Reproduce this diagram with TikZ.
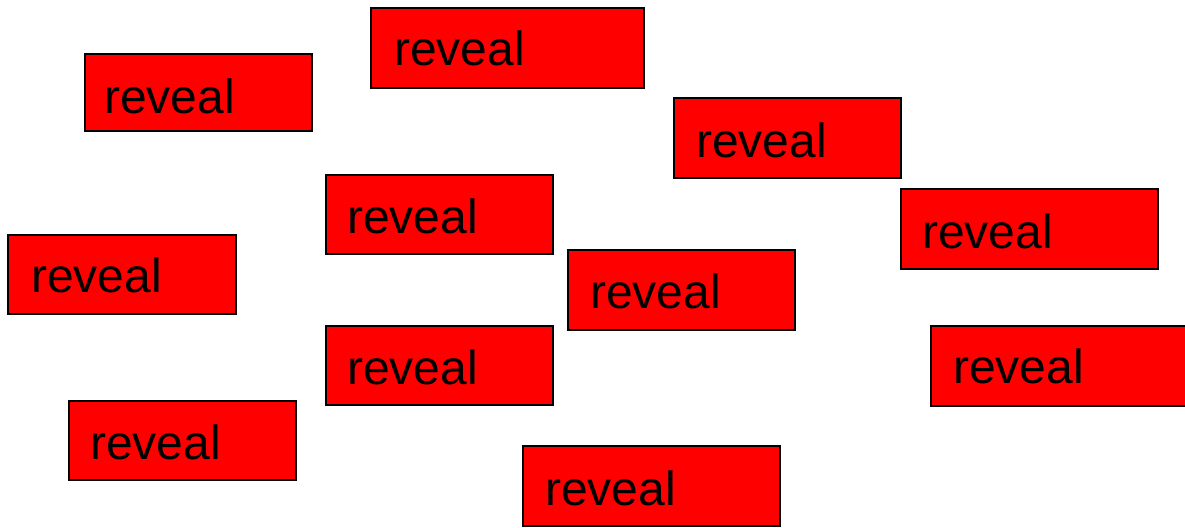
\documentclass[tikz,border=0pt]{standalone}
\usepackage{fontspec}
\setmainfont{Liberation Sans}
\begin{document}
\begin{tikzpicture}[x=1pt,y=-1pt,
  boxshape/.style={draw=black,fill=red,line width=2pt},
  thinbox/.style={draw=black,fill=red,line width=1.2pt},
  lbl/.style={anchor=base west,inner sep=0pt,font=\fontsize{48}{50}\selectfont,text=black}]
\useasboundingbox (0,0) rectangle (1185,527);
\draw[thinbox] (85,54) rectangle (312,131);
\node[lbl] (r1) at (104,113) {reveal};
\draw[boxshape] (371,8) rectangle (644,88);
\node[lbl] (r2) at (394,66) {reveal};
\draw[boxshape] (674,98) rectangle (901,178);
\node[lbl] (r3) at (696,157) {reveal};
\draw[boxshape] (326,175) rectangle (553,254);
\node[lbl] (r4) at (347,233) {reveal};
\draw[boxshape] (901,189) rectangle (1158,269);
\node[lbl] (r5) at (922,248) {reveal};
\draw[boxshape] (8,235) rectangle (236,314);
\node[lbl] (r6) at (31,292.5) {reveal};
\draw[boxshape] (568,250) rectangle (795,330);
\node[lbl] (r7) at (590,308) {reveal};
\draw[boxshape] (326,326) rectangle (553,405);
\node[lbl] (r8) at (347,384) {reveal};
\draw[boxshape] (931,326) rectangle (1200,406);
\node[lbl] (r9) at (953,383.5) {reveal};
\draw[boxshape] (69,401) rectangle (296,480);
\node[lbl] (r10) at (90,459) {reveal};
\draw[boxshape] (523,446) rectangle (780,526);
\node[lbl] (r11) at (545,505) {reveal};
\end{tikzpicture}
\end{document}
